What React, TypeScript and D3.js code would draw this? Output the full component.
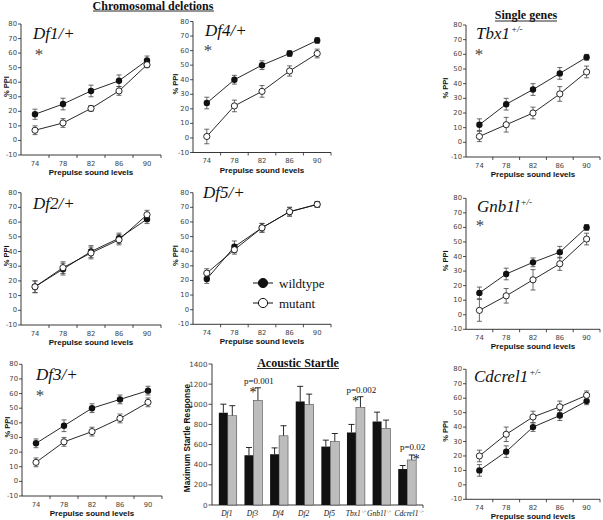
import React from "react";
import * as d3 from "d3";

// ---------- data ----------
const levels = [74, 78, 82, 86, 90];
const levelTicks = [76, 80, 84, 88, 92];
const ppiTicks = [-10, 0, 10, 20, 30, 40, 50, 60, 70, 80];

const df1Wild = [18, 25, 34, 41, 55];
const df1WildErr = [3.5, 4, 4, 4, 3];
const df1Mut = [7, 12, 22, 34, 52];
const df1MutErr = [3, 3, 2, 3, 2];

const df4Wild = [24, 40, 50, 58, 67];
const df4WildErr = [4, 3, 3, 2, 2];
const df4Mut = [1, 22, 32, 46, 58];
const df4MutErr = [5, 4, 4, 3.5, 3];

const tbx1Wild = [12, 26, 36, 47, 58];
const tbx1WildErr = [4, 4, 4, 4, 2];
const tbx1Mut = [4, 12, 20, 33, 48];
const tbx1MutErr = [3.5, 5, 4, 5, 4];

const df2Wild = [16, 28, 40, 49, 62];
const df2WildErr = [4, 4, 4, 3.5, 3];
const df2Mut = [16, 29, 39, 48, 65];
const df2MutErr = [4, 4, 4, 3.5, 3];

const df5Wild = [21, 43, 56, 67, 72];
const df5WildErr = [3, 4, 3, 3, 2];
const df5Mut = [25, 41, 56, 67, 72];
const df5MutErr = [3, 3, 3, 3, 2];

const gnb1lWild = [15, 28, 36, 43, 60];
const gnb1lWildErr = [4, 4, 3, 4, 2];
const gnb1lMut = [3, 13, 24, 35, 52];
const gnb1lMutErr = [7.5, 5, 7, 4.5, 4];

const df3Wild = [26, 38, 50, 56, 62];
const df3WildErr = [3, 4, 3, 3, 3];
const df3Mut = [13, 27, 34, 43, 54];
const df3MutErr = [3, 3, 3, 3, 3];

const cdcrel1Wild = [10, 23, 40, 48, 58];
const cdcrel1WildErr = [4, 4, 3, 3.5, 2.5];
const cdcrel1Mut = [20, 35, 47, 54, 62];
const cdcrel1MutErr = [4, 5, 4, 4, 3];

const strains = ["Df1", "Df3", "Df4", "Df2", "Df5", "Tbx1", "Gnb1l", "Cdcrel1"];
const strainSup = ["", "", "", "", "", "+/-", "+/-", "+/-"];
const startleWild = [916, 494, 504, 1028, 580, 720, 829, 357];
const startleWildErr = [85, 77, 63, 150, 64, 80, 93, 35];
const startleMut = [886, 1038, 687, 999, 630, 969, 760, 447];
const startleMutErr = [100, 126, 100, 102, 80, 106, 83, 50];
const startleP = ["", "p=0.001", "", "", "", "p=0.002", "", "p=0.02"];
const startleTicks = [0, 200, 400, 600, 800, 1000, 1200, 1400];

// ---------- layout ----------
type Panel = {
  name: string; sup?: string; star: boolean;
  wild: number[]; wildErr: number[]; mut: number[]; mutErr: number[];
  x0: number; x1: number; yTop: number; yBot: number;
  tx: number; ty: number; sx?: number; sy?: number; labOff: number;
};

const panels: Panel[] = [
  { name: "Df1/+", star: true, wild: df1Wild, wildErr: df1WildErr, mut: df1Mut, mutErr: df1MutErr,
    x0: 21, x1: 161, yTop: 24, yBot: 155, tx: 33, ty: 39, sx: 39, sy: 52, labOff: 15 },
  { name: "Df4/+", star: true, wild: df4Wild, wildErr: df4WildErr, mut: df4Mut, mutErr: df4MutErr,
    x0: 193, x1: 331, yTop: 21.5, yBot: 152.5, tx: 205, ty: 36, sx: 208, sy: 48, labOff: 17.5 },
  { name: "Tbx1", sup: "+/-", star: true, wild: tbx1Wild, wildErr: tbx1WildErr, mut: tbx1Mut, mutErr: tbx1MutErr,
    x0: 466, x1: 600, yTop: 25, yBot: 157, tx: 476, ty: 39, sx: 479, sy: 52, labOff: 20.5 },
  { name: "Df2/+", star: false, wild: df2Wild, wildErr: df2WildErr, mut: df2Mut, mutErr: df2MutErr,
    x0: 21, x1: 161, yTop: 192.7, yBot: 325, tx: 33, ty: 209, labOff: 15 },
  { name: "Df5/+", star: false, wild: df5Wild, wildErr: df5WildErr, mut: df5Mut, mutErr: df5MutErr,
    x0: 193, x1: 331, yTop: 192.7, yBot: 324.3, tx: 203, ty: 198, labOff: 17.5 },
  { name: "Gnb1l", sup: "+/-", star: true, wild: gnb1lWild, wildErr: gnb1lWildErr, mut: gnb1lMut, mutErr: gnb1lMutErr,
    x0: 466, x1: 600, yTop: 198.3, yBot: 329.3, tx: 477, ty: 212, sx: 480, sy: 223, labOff: 20.5 },
  { name: "Df3/+", star: true, wild: df3Wild, wildErr: df3WildErr, mut: df3Mut, mutErr: df3MutErr,
    x0: 22, x1: 162, yTop: 364.3, yBot: 496, tx: 36, ty: 380, sx: 40, sy: 393, labOff: 15 },
  { name: "Cdcrel1", sup: "+/-", star: false, wild: cdcrel1Wild, wildErr: cdcrel1WildErr, mut: cdcrel1Mut, mutErr: cdcrel1MutErr,
    x0: 466, x1: 600, yTop: 369.3, yBot: 499.3, tx: 474, ty: 382, labOff: 20.5 },
];

const labelDx = [-1, -1, -1, -1, -1, 0, -2.5, 2];

const SERIF = "'Liberation Serif', 'Times New Roman', serif";
const SANS = "'Liberation Sans', Arial, sans-serif";
const TICK = "'DejaVu Sans', Verdana, sans-serif";

function LinePanel({ p }: { p: Panel }) {
  const x = d3.scaleLinear().domain([72, 92]).range([p.x0, p.x1]);
  const y = d3.scaleLinear().domain([-10, 80]).range([p.yBot, p.yTop]);
  const line = d3.line<number>().x((_, i) => x(levels[i])).y((d) => y(d));
  const errBars = (vals: number[], errs: number[], key: string) =>
    vals.map((v, i) => {
      const cx = x(levels[i]);
      const a = y(v + errs[i]);
      const b = y(v - errs[i]);
      return (
        <g key={key + i} stroke="#444" strokeWidth={0.8}>
          <line x1={cx} x2={cx} y1={a} y2={b} />
          <line x1={cx - 2.5} x2={cx + 2.5} y1={a} y2={a} />
          <line x1={cx - 2.5} x2={cx + 2.5} y1={b} y2={b} />
        </g>
      );
    });
  const midY = (p.yTop + p.yBot) / 2 - 3;
  return (
    <g>
      {/* axes */}
      <line x1={p.x0} x2={p.x0} y1={p.yTop} y2={p.yBot} stroke="#222" strokeWidth={0.9} />
      <line x1={p.x0} x2={p.x1} y1={p.yBot} y2={p.yBot} stroke="#222" strokeWidth={0.9} />
      {ppiTicks.map((t) => (
        <g key={"yt" + t}>
          <line x1={p.x0 - 3} x2={p.x0} y1={y(t)} y2={y(t)} stroke="#222" strokeWidth={0.8} />
          <text x={p.x0 - 4} y={y(t)} fontSize={6.8} fontFamily={TICK} fill="#444" textAnchor="end" dominantBaseline="central">{t}</text>
        </g>
      ))}
      {levelTicks.map((t) => (
        <line key={"xt" + t} x1={x(t)} x2={x(t)} y1={p.yBot} y2={p.yBot + 3} stroke="#222" strokeWidth={0.8} />
      ))}
      {levels.map((t) => (
        <text key={"xl" + t} x={x(t)} y={p.yBot + 10.5} fontSize={6.8} fontFamily={TICK} fill="#444" textAnchor="middle">{t}</text>
      ))}
      <text x={(p.x0 + p.x1) / 2} y={p.yBot + 20} fontSize={8} fontWeight="bold" fontFamily={SANS} textAnchor="middle" fill="#111">Prepulse sound levels</text>
      <text transform={`translate(${p.x0 - p.labOff},${midY}) rotate(-90)`} fontSize={7.5} fontWeight="bold" fontFamily={SANS} textAnchor="middle" dominantBaseline="central" fill="#111">% PPI</text>
      {/* title */}
      <text x={p.tx} y={p.ty} fontSize={17} fontStyle="italic" fontFamily={SERIF} fill="#111">
        {p.name}
        {p.sup && <tspan fontSize={9} dy={-7} dx={1}>{p.sup}</tspan>}
      </text>
      {p.star && (
        <text x={p.sx} y={(p.sy as number) + 8} fontSize={17} fontFamily={SERIF} fill="#444" textAnchor="middle">*</text>
      )}
      {/* data */}
      <path d={line(p.wild) || ""} fill="none" stroke="#111" strokeWidth={0.9} />
      <path d={line(p.mut) || ""} fill="none" stroke="#111" strokeWidth={0.9} />
      {errBars(p.wild, p.wildErr, "we")}
      {errBars(p.mut, p.mutErr, "me")}
      {p.wild.map((v, i) => (
        <circle key={"w" + i} cx={x(levels[i])} cy={y(v)} r={3.2} fill="#111" />
      ))}
      {p.mut.map((v, i) => (
        <circle key={"m" + i} cx={x(levels[i])} cy={y(v)} r={3.1} fill="#fff" stroke="#111" strokeWidth={0.9} />
      ))}
    </g>
  );
}

function Legend() {
  const rows = [
    { label: "wildtype", fill: "#111", y: 283 },
    { label: "mutant", fill: "#fff", y: 303 },
  ];
  return (
    <g>
      {rows.map((r) => (
        <g key={r.label}>
          <line x1={253} x2={273} y1={r.y} y2={r.y} stroke="#111" strokeWidth={1} />
          <circle cx={263} cy={r.y} r={4.6} fill={r.fill} stroke="#111" strokeWidth={1} />
          <text x={279} y={r.y + 4.5} fontSize={13} fontFamily={SERIF} fill="#111">{r.label}</text>
        </g>
      ))}
    </g>
  );
}

function StartleChart() {
  const xb = d3.scaleBand<string>().domain(strains).range([215, 420]).paddingInner(0.3).paddingOuter(0.15);
  const yb = d3.scaleLinear().domain([0, 1400]).range([505, 364]);
  const bw = xb.bandwidth() / 2;
  const axisX = 212;
  return (
    <g>
      <line x1={axisX} x2={axisX} y1={yb(1400)} y2={yb(0)} stroke="#222" strokeWidth={0.9} />
      <line x1={axisX} x2={423} y1={yb(0)} y2={yb(0)} stroke="#222" strokeWidth={0.9} />
      <line x1={423} x2={423} y1={yb(0)} y2={yb(0) + 3} stroke="#222" strokeWidth={0.8} />
      {startleTicks.map((t) => (
        <g key={"bt" + t}>
          <line x1={axisX - 3.5} x2={axisX} y1={yb(t)} y2={yb(t)} stroke="#222" strokeWidth={0.8} />
          <text x={axisX - 4.5} y={yb(t)} fontSize={7.2} fontFamily={TICK} fill="#444" textAnchor="end" dominantBaseline="central">{t}</text>
        </g>
      ))}
      <text transform={`translate(187,438) rotate(-90)`} fontSize={8.3} fontWeight="bold" fontFamily={SANS} textAnchor="middle" dominantBaseline="central" fill="#111">Maximum Startle Response</text>
      <text x={298} y={366.5} fontSize={12} fontWeight="bold" fontFamily={SERIF} textAnchor="middle" fill="#111">Acoustic Startle</text>
      <line x1={257} x2={339} y1={368.5} y2={368.5} stroke="#111" strokeWidth={0.9} />
      {strains.map((s, i) => {
        const xs = xb(s) as number;
        const wTop = yb(startleWild[i]);
        const mTop = yb(startleMut[i]);
        const wErr = yb(startleWild[i] + startleWildErr[i]);
        const mErr = yb(startleMut[i] + startleMutErr[i]);
        const wc = xs + bw / 2;
        const mc = xs + bw * 1.5;
        const hasP = startleP[i] !== "";
        const starDx = i === 7 ? 4.5 : -5;
        return (
          <g key={s}>
            <line x1={wc} x2={wc} y1={wTop} y2={wErr} stroke="#111" strokeWidth={0.9} />
            <line x1={wc - 3} x2={wc + 3} y1={wErr} y2={wErr} stroke="#111" strokeWidth={0.9} />
            <line x1={mc} x2={mc} y1={mTop} y2={mErr} stroke="#111" strokeWidth={0.9} />
            <line x1={mc - 3} x2={mc + 3} y1={mErr} y2={mErr} stroke="#111" strokeWidth={0.9} />
            <rect x={xs} y={wTop} width={bw} height={yb(0) - wTop} fill="#111" />
            <rect x={xs + bw} y={mTop} width={bw} height={yb(0) - mTop} fill="#bdbdbd" stroke="#333" strokeWidth={0.5} />
            {hasP && (
              <>
                <text x={mc + 1} y={mErr - (i === 7 ? 4.5 : 4)} fontSize={9} fontFamily={SERIF} textAnchor="middle" fill="#111">{startleP[i]}</text>
                <text x={mc + starDx} y={mErr + 9} fontSize={14} fontFamily={SERIF} textAnchor="middle" fill="#111">*</text>
              </>
            )}
            <text x={xs + bw + labelDx[i]} y={516} fontSize={7.5} fontStyle="italic" fontFamily={SERIF} textAnchor="middle" fill="#111">
              {s}
              {strainSup[i] && <tspan fontSize={4.2} dy={-3.5}>{strainSup[i]}</tspan>}
            </text>
          </g>
        );
      })}
    </g>
  );
}

export default function App() {
  return (
    <div style={{ position: "absolute", left: 0, top: 0 }}>
      <svg width={603} height={520} style={{ display: "block", background: "#fff" }}>
        <rect width={603} height={520} fill="#fff" />
        <text x={153} y={9.5} fontSize={12} fontWeight="bold" fontFamily={SERIF} textAnchor="middle" fill="#111">Chromosomal deletions</text>
        <line x1={93} x2={214} y1={11} y2={11} stroke="#111" strokeWidth={0.9} />
        <text x={526} y={18.5} fontSize={12} fontWeight="bold" fontFamily={SERIF} textAnchor="middle" fill="#111">Single genes</text>
        <line x1={495} x2={557} y1={21} y2={21} stroke="#111" strokeWidth={0.9} />
        {panels.map((p) => (
          <LinePanel key={p.name} p={p} />
        ))}
        <Legend />
        <StartleChart />
      </svg>
    </div>
  );
}
